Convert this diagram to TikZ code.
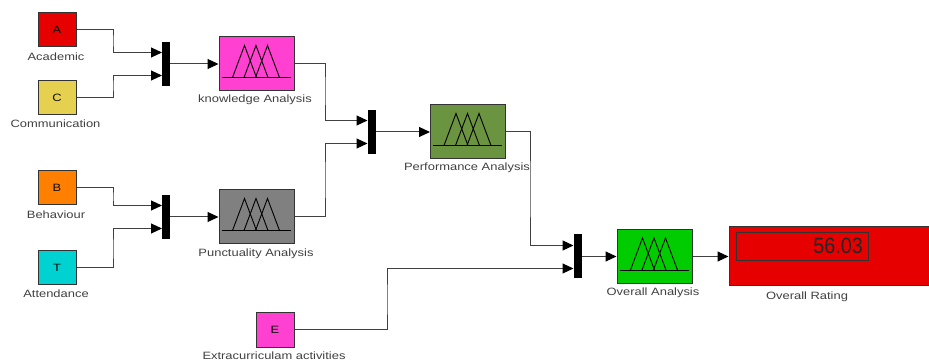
\documentclass[tikz,border=0pt]{standalone}
\usepackage{fontspec}
\setmainfont{Liberation Sans}
\newfontfamily\labelfont[FakeStretch=1.22]{Liberation Sans}
\newfontfamily\digitfont[FakeStretch=0.9]{Liberation Sans}
\usetikzlibrary{arrows.meta}
\definecolor{acadred}{HTML}{E60000}
\definecolor{commyellow}{HTML}{E6D050}
\definecolor{behavorange}{HTML}{FF8000}
\definecolor{attendcyan}{HTML}{00D2D2}
\definecolor{fuzzypink}{HTML}{FF40D0}
\definecolor{fuzzygray}{HTML}{808080}
\definecolor{fuzzyolive}{HTML}{6B9440}
\definecolor{fuzzygreen}{HTML}{00CC00}
\tikzset{
  srcblock/.style={draw=black!80, line width=1pt, minimum width=38pt, minimum height=34pt, inner sep=0pt, text=black!95, font=\labelfont\fontsize{10.6}{12}\selectfont},
  fisblock/.style={draw=black!80, line width=1pt, minimum width=75pt, minimum height=54pt, inner sep=0pt},
  muxbar/.style={fill=black, minimum width=8pt, minimum height=44pt, inner sep=0pt},
  blocklabel/.style={text=black!75, inner sep=0pt, font=\labelfont\fontsize{10.6}{12}\selectfont},
  wire/.style={line width=1pt, black!75, -{Triangle[length=11pt, width=10pt, black]}}
}
\begin{document}
\begin{tikzpicture}[x=1pt, y=-1pt]
      \useasboundingbox (0, 0) rectangle (929, 363);
      % sources
      \node [srcblock, fill=acadred] (acad) at (57, 29.5) {A};
      \node [srcblock, fill=commyellow] (comm) at (57, 98) {C};
      \node [srcblock, fill=behavorange] (behav) at (57, 188) {B};
      \node [srcblock, fill=attendcyan] (attend) at (57, 268) {T};
      \node [srcblock, fill=fuzzypink] (extra) at (275, 330) {E};
      \node [blocklabel] (acadlabel) at (56, 57) {Academic};
      \node [blocklabel] (commlabel) at (55.5, 124) {Communication};
      \node [blocklabel] (behavlabel) at (56, 215) {Behaviour};
      \node [blocklabel] (attendlabel) at (56, 294) {Attendance};
      \node [blocklabel] (extralabel) at (274, 356) {Extracurriculam activities};
      % fuzzy blocks
      \node [fisblock, fill=fuzzypink] (know) at (256.5, 64) {};
      \node [fisblock, fill=fuzzygray] (punct) at (256.5, 217) {};
      \node [fisblock, fill=fuzzyolive] (perf) at (468, 132) {};
      \node [fisblock, fill=fuzzygreen] (over) at (654.5, 256.5) {};
      \node [blocklabel] (knowlabel) at (255, 100) {knowledge Analysis};
      \node [blocklabel] (punctlabel) at (256, 254) {Punctuality Analysis};
      \node [blocklabel] (perflabel) at (467, 168) {Performance Analysis};
      \node [blocklabel] (overlabel) at (653, 293) {Overall Analysis};
      \foreach \blk in {know, punct, perf, over} {
        \draw [line width=0.9pt] ([shift={(3, 41)}]\blk.north west) -- ([shift={(72, 41)}]\blk.north west);
        \foreach \apex in {26, 37.5, 49}
          \draw [line width=0.9pt] ([shift={(\apex-12, 41)}]\blk.north west) -- ([shift={(\apex, 9)}]\blk.north west) -- ([shift={(\apex+12, 41)}]\blk.north west);
      }
      % mux bars
      \node [muxbar] (muxa) at (166, 64) {};
      \node [muxbar] (muxb) at (166, 217) {};
      \node [muxbar] (muxc) at (371.5, 132) {};
      \node [muxbar] (muxd) at (577.5, 256.5) {};
      \coordinate (muxatop) at (162, 52.5);
      \coordinate (muxabot) at (162, 75.5);
      \coordinate (muxbtop) at (162, 205.5);
      \coordinate (muxbbot) at (162, 228.5);
      \coordinate (muxctop) at (367.5, 120.5);
      \coordinate (muxcbot) at (367.5, 143.5);
      \coordinate (muxdtop) at (573.5, 245.5);
      \coordinate (muxdbot) at (573.5, 268.5);
      % display
      \node [draw=black!80, line width=1pt, fill=acadred, minimum width=204pt, minimum height=59pt, inner sep=0pt] (rating) at (831, 256.5) {};
      \node [draw=black!80, line width=0.9pt, minimum width=132pt, minimum height=28pt, inner sep=0pt] (ratingbox) at (802, 246) {};
      \node [anchor=east, inner sep=0pt, text=black!85, font=\digitfont\fontsize{22}{24}\selectfont] (ratingval) at (863, 246) {56.03};
      \node [blocklabel] (ratinglabel) at (807, 297) {Overall Rating};
      % wires
      \draw [wire] (acad.east) -| (113, 41) |- (muxatop);
      \draw [wire] (comm.east) -| (113, 85) |- (muxabot);
      \draw [wire] (behav.east) -| (113, 197) |- (muxbtop);
      \draw [wire] (attend.east) -| (113, 250) |- (muxbbot);
      \draw [wire] (know.east) -| (325, 90) |- (muxctop);
      \draw [wire] (punct.east) -| (325, 180) |- (muxcbot);
      \draw [wire] (perf.east) -| (530, 190) |- (muxdtop);
      \draw [wire] (extra.east) -| (387, 300) |- (muxdbot);
      \draw [wire] (muxa.east) -- (know.west);
      \draw [wire] (muxb.east) -- (punct.west);
      \draw [wire] (muxc.east) -- (perf.west);
      \draw [wire] (muxd.east) -- (over.west);
      \draw [wire] (over.east) -- (rating.west);
\end{tikzpicture}
\end{document}
